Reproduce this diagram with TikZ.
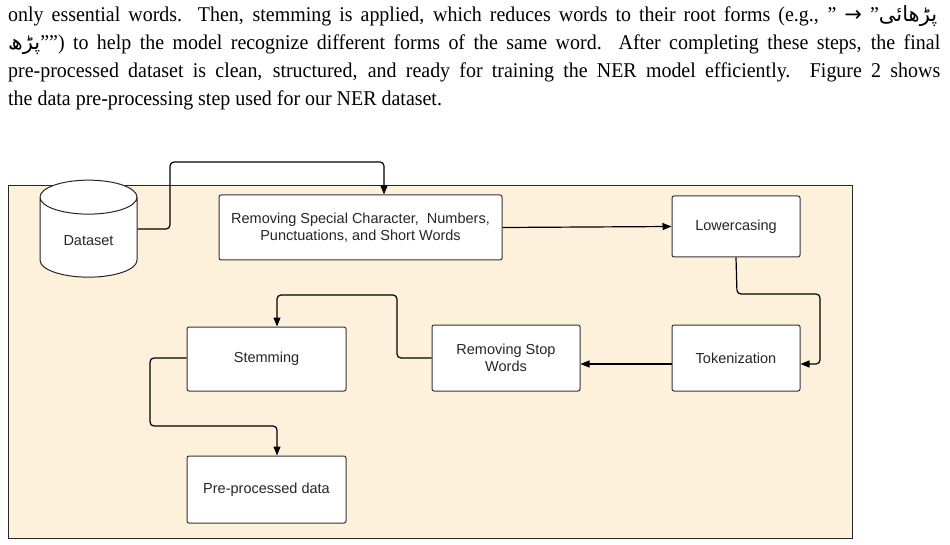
\documentclass[tikz,border=0pt]{standalone}
\usepackage{fontspec}
\setmainfont[FakeStretch=0.95]{Liberation Serif}
\setsansfont{Liberation Sans}
\newfontfamily\urdu[Script=Arabic]{DejaVu Sans}
\newfontfamily\symf{DejaVu Sans}
\usetikzlibrary{shapes.geometric,arrows.meta}
\definecolor{bg}{HTML}{FDF1DC}
\TeXXeTstate=1
\newcommand{\ur}[1]{\beginR{\urdu #1}\endR}
\begin{document}
\begin{tikzpicture}[x=1pt,y=-1pt,
  box/.style={draw=black!80,line width=1pt,fill=white,rounded corners=2pt,font=\sffamily\fontsize{14.5}{17}\selectfont,align=center,text=black!85},
  line/.style={draw=black,line width=1.2pt,rounded corners=4pt,-{Triangle[length=9pt,width=7pt]}},
  para/.style={anchor=base west,inner sep=0pt,font=\fontsize{21}{24}\selectfont}]
\useasboundingbox (0,0) rectangle (950,545);
\fill[white] (0,0) rectangle (950,545);
\node[para] (l1) at (8,22) {\makebox[929pt][s]{only essential words. Then, stemming is applied, which reduces words to their root forms (e.g., " {\symf →} "\ur{پڑھائی}}};
\node[para] (l2) at (8,50) {\makebox[932pt][s]{\ur{پڑھ}"") to help the model recognize different forms of the same word. After completing these steps, the final}};
\node[para] (l3) at (8,78) {\makebox[932pt][s]{pre-processed dataset is clean, structured, and ready for training the NER model efficiently. Figure 2 shows}};
\node[para] (l4) at (8,106) {the data pre-processing step used for our NER dataset.};
\draw[fill=bg,draw=black!85,line width=1pt] (8,186) rectangle (852,538);
\node[cylinder,shape border rotate=90,draw=black!85,line width=1pt,fill=white,minimum width=97pt,minimum height=97pt,aspect=0.6,font=\sffamily\fontsize{14.5}{17}\selectfont,text=black!85] (ds) at (88.5,240.5) {Dataset};
\node[box,minimum width=283pt,minimum height=65pt] (rs) at (360.5,227.5) {Removing Special Character,\ \ Numbers,\\Punctuations, and Short Words};
\node[box,minimum width=128pt,minimum height=61pt] (lc) at (736,226.5) {Lowercasing};
\node[box,minimum width=128pt,minimum height=66pt] (tk) at (736,358) {Tokenization};
\node[box,minimum width=148pt,minimum height=66pt] (sw) at (506,358) {Removing Stop\\Words};
\node[box,minimum width=159pt,minimum height=64pt] (st) at (266.5,359) {Stemming};
\node[box,minimum width=159pt,minimum height=67pt] (pp) at (266.5,489.5) {Pre-processed data};
\coordinate (a1) at (170,229); \coordinate (a2) at (170,162); \coordinate (a3) at (384,162);
\draw[line] (ds.east|-a1) -- (a1) -- (a2) -- (a3) -- (a3|-rs.north);
\draw[line] (rs.east) -- (lc.west);
\coordinate (b1) at (737,294); \coordinate (b2) at (820,294); \coordinate (b3) at (820,364);
\draw[line] (lc.south) -- (b1) -- (b2) -- (b3) -- (b3-|tk.east);
\draw[line] (tk.west|-0,364) -- (sw.east|-0,364);
\coordinate (c1) at (397,358); \coordinate (c2) at (397,295); \coordinate (c3) at (277,295);
\draw[line] (sw.west|-c1) -- (c1) -- (c2) -- (c3) -- (c3|-st.north);
\coordinate (d1) at (150,358); \coordinate (d2) at (150,426); \coordinate (d3) at (277,426);
\draw[line] (st.west|-d1) -- (d1) -- (d2) -- (d3) -- (d3|-pp.north);
\end{tikzpicture}
\end{document}
